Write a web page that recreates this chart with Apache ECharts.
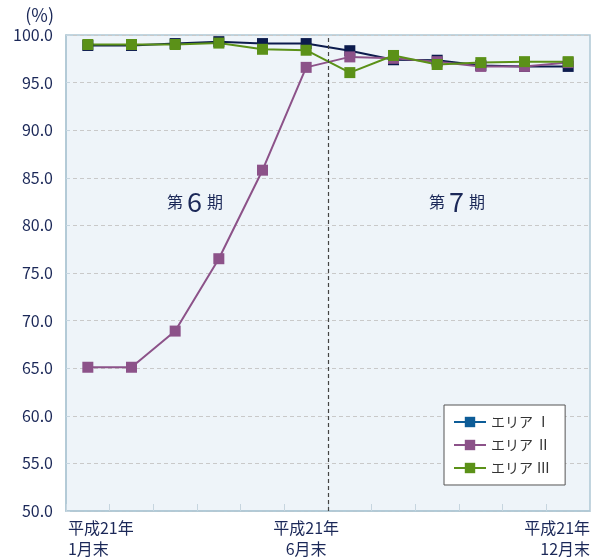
<!DOCTYPE html>
<html>
<head>
<meta charset="utf-8">
<script src="https://cdn.jsdelivr.net/npm/echarts@6/dist/echarts.min.js"></script>
<style>
html,body{margin:0;padding:0;background:#fff;}
#c{width:591px;height:560px;}
</style>
</head>
<body>
<div id="c"></div>
<script>
// ---- data ----
var months = ['1月末','2月末','3月末','4月末','5月末','6月末','7月末','8月末','9月末','10月末','11月末','12月末'];
var yearLabel = '平成21年';
var shownLabelIdx = [0, 5, 11];
var seriesNames = ['エリア Ⅰ', 'エリア Ⅱ', 'エリア Ⅲ'];
var areaI   = [98.9, 98.9, 99.1, 99.3, 99.1, 99.1, 98.35, 97.4, 97.35, 96.8, 96.7, 96.7];
var areaII  = [65.1, 65.1, 68.9, 76.5, 85.8, 96.6, 97.7, 97.55, 97.2, 96.7, 96.7, 97.1];
var areaIII = [99.0, 99.0, 99.0, 99.15, 98.5, 98.4, 96.05, 97.85, 96.9, 97.1, 97.2, 97.2];
var periods = [
  {num: '6', from: '1月末', to: '6月末'},
  {num: '7', from: '7月末', to: '12月末'}
];
var periodBoundary = 6; // boundary between 6月末 and 7月末

var FONT = '"Noto Sans CJK JP", "Noto Sans", sans-serif';
var TXT = '#1b2858';
var colors = ['#0c1b4d', '#8c5289', '#5b9118'];
var legendColors = ['#0d5c97', '#8c5289', '#5b9118'];

var catData = months.map(function (m, i) {
  var ts = {};
  if (i === 0) ts = {padding: [0, 0, 0, 26]};
  if (i === months.length - 1) ts = {padding: [0, 22, 0, 0]};
  return {value: m, textStyle: ts};
});

var chart = echarts.init(document.getElementById('c'), null, {renderer: 'canvas'});

function mkSeries(idx, data) {
  return {
    name: seriesNames[idx],
    type: 'line',
    data: data,
    symbol: 'rect',
    symbolSize: 11,
    color: colors[idx],
    lineStyle: {width: 2, color: colors[idx]},
    itemStyle: {color: colors[idx]},
    silent: true,
    animation: false
  };
}

var sI = mkSeries(0, areaI);
sI.markArea = {
  silent: true,
  itemStyle: {color: 'rgba(0,0,0,0)'},
  label: {
    show: true,
    position: 'inside',
    formatter: function (p) { return p.name; },
    rich: {
      a: {fontSize: 16, color: TXT, fontFamily: FONT, padding: [0, 4, 0, 0]},
      n: {fontSize: 27, color: TXT, fontFamily: FONT, padding: [0, 5, 0, 0]}
    }
  },
  data: periods.map(function (p) {
    return [
      {name: '{a|第}{n|' + p.num + '}{a|期}', xAxis: p.from, yAxis: 80},
      {xAxis: p.to, yAxis: 85}
    ];
  })
};

var labelRich = {
  l: {align: 'left', color: TXT, fontSize: 16, lineHeight: 21, fontFamily: FONT},
  c: {align: 'center', color: TXT, fontSize: 16, lineHeight: 21, fontFamily: FONT},
  r: {align: 'right', color: TXT, fontSize: 16, lineHeight: 21, fontFamily: FONT}
};

var option = {
  backgroundColor: '#ffffff',
  animation: false,
  grid: {
    left: 66, right: 1, top: 35, bottom: 49,
    outerBoundsMode: 'none',
    containLabel: false,
    show: true,
    backgroundColor: '#eef4f9',
    borderColor: '#afc7d5',
    borderWidth: 1.5
  },
  legend: {
    left: 444, top: 405,
    orient: 'vertical',
    backgroundColor: '#ffffff',
    borderColor: '#555555',
    borderWidth: 1,
    padding: [10, 15, 10, 9],
    itemWidth: 32,
    itemHeight: 13,
    itemGap: 9,
    itemTextGap: 10,
    textStyle: {fontSize: 14, color: '#333', fontFamily: FONT},
    data: seriesNames.map(function (n, i) {
      return {name: n, itemStyle: {color: legendColors[i]}, lineStyle: {color: legendColors[i], width: 2}};
    })
  },
  xAxis: [{
    type: 'category',
    data: catData,
    boundaryGap: true,
    axisLine: {show: true, lineStyle: {color: '#afc7d5', width: 1.5}},
    axisTick: {show: true, inside: true, length: 7, interval: 0, lineStyle: {color: '#c6d5df', width: 1}},
    axisLabel: {
      interval: 0,
      margin: 6,
      color: TXT,
      fontSize: 16,
      lineHeight: 21,
      fontFamily: FONT,
      hideOverlap: false,
      rich: labelRich,
      formatter: function (v, i) {
        if (shownLabelIdx.indexOf(i) < 0) return '';
        var k = i === 0 ? 'l' : (i === months.length - 1 ? 'r' : 'c');
        return '{' + k + '|' + yearLabel + '}\n{' + k + '|' + v + '}';
      }
    },
    splitLine: {show: false}
  }, {
    type: 'value',
    min: 0, max: months.length,
    show: false
  }],
  yAxis: {
    type: 'value',
    min: 50, max: 100, interval: 5,
    name: '(%)',
    nameLocation: 'end',
    nameGap: 11,
    nameTextStyle: {color: TXT, fontSize: 18, fontFamily: FONT, align: 'right', padding: [0, 12, 0, 0]},
    axisLine: {show: true, lineStyle: {color: '#afc7d5', width: 1.5}},
    axisTick: {show: true, inside: true, length: 4, lineStyle: {color: '#c6d5df'}},
    axisLabel: {
      color: TXT, fontSize: 16, fontFamily: FONT, margin: 13,
      formatter: function (v) { return v.toFixed(1); }
    },
    splitLine: {show: true, lineStyle: {color: '#c9c9c9', type: [4, 3], width: 1}}
  },
  series: [
    sI,
    mkSeries(1, areaII),
    mkSeries(2, areaIII),
    {
      type: 'line',
      xAxisIndex: 1,
      data: [],
      silent: true,
      markLine: {
        silent: true,
        symbol: 'none',
        label: {show: false},
        lineStyle: {color: '#444', type: [4, 3], width: 1.2},
        data: [{xAxis: periodBoundary}]
      }
    }
  ]
};
chart.setOption(option);
</script>
</body>
</html>
